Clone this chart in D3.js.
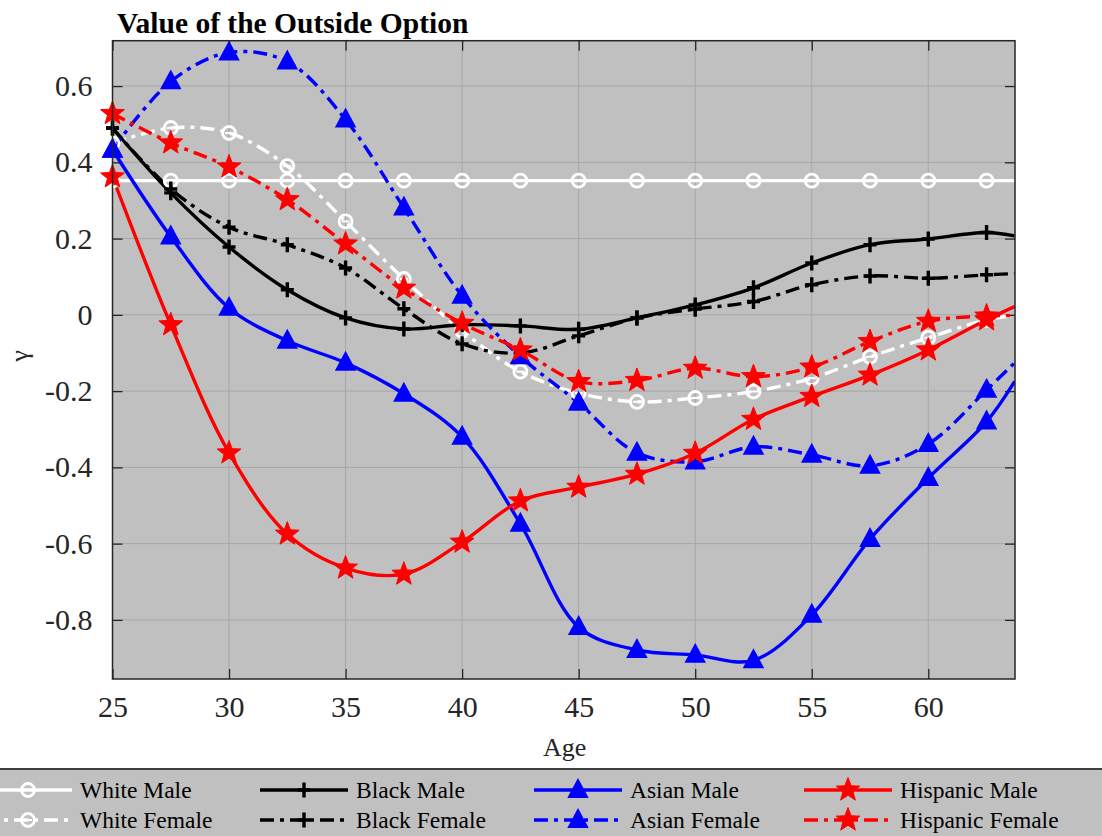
<!DOCTYPE html>
<html>
<head>
<meta charset="utf-8">
<script src="https://cdn.jsdelivr.net/npm/d3@7"></script>
<style>
html,body{margin:0;padding:0;background:#fff;overflow:hidden;}
svg{display:block;}
</style>
</head>
<body>
<svg id="chart" width="1102" height="836"></svg>
<script>
// ---------- data ----------
const ages = [25, 27.5, 30, 32.5, 35, 37.5, 40, 42.5, 45, 47.5, 50, 52.5, 55, 57.5, 60, 62.5, 63.7];
const markerCount = 16; // markers at ages 25..62.5
const whiteMale   = [0.352,0.352,0.352,0.352,0.352,0.352,0.352,0.352,0.352,0.352,0.352,0.352,0.352,0.352,0.352,0.352,0.352];
const whiteFemale = [0.45,0.49,0.477,0.39,0.245,0.094,-0.042,-0.149,-0.205,-0.228,-0.218,-0.201,-0.166,-0.11,-0.06,-0.013,-0.002];
const blackMale   = [0.49,0.32,0.178,0.066,-0.008,-0.037,-0.026,-0.029,-0.038,-0.008,0.026,0.071,0.136,0.184,0.199,0.216,0.207];
const blackFemale = [0.49,0.33,0.23,0.184,0.123,0.016,-0.076,-0.1,-0.055,-0.008,0.015,0.035,0.079,0.102,0.096,0.105,0.108];
const asianMale   = [0.433,0.205,0.018,-0.068,-0.126,-0.207,-0.32,-0.548,-0.819,-0.879,-0.892,-0.906,-0.787,-0.588,-0.428,-0.28,-0.175];
const asianFemale = [0.433,0.612,0.688,0.664,0.512,0.281,0.05,-0.109,-0.231,-0.362,-0.385,-0.346,-0.367,-0.396,-0.339,-0.197,-0.126];
const hispMale    = [0.362,-0.026,-0.362,-0.575,-0.664,-0.68,-0.596,-0.488,-0.452,-0.418,-0.363,-0.274,-0.214,-0.158,-0.092,-0.013,0.022];
const hispFemale  = [0.528,0.451,0.388,0.302,0.186,0.07,-0.022,-0.092,-0.175,-0.172,-0.14,-0.162,-0.137,-0.07,-0.017,-0.003,-0.002];

const xTicks = [25, 30, 35, 40, 45, 50, 55, 60];
const yTicks = [-0.8, -0.6, -0.4, -0.2, 0, 0.2, 0.4, 0.6];
const yTickLabels = ["-0.8", "-0.6", "-0.4", "-0.2", "0", "0.2", "0.4", "0.6"];

const seriesNames = ["White Male","White Female","Black Male","Black Female","Asian Male","Asian Female","Hispanic Male","Hispanic Female"];
const seriesValues = [whiteMale, whiteFemale, blackMale, blackFemale, asianMale, asianFemale, hispMale, hispFemale];
const seriesColors = ["#ffffff","#ffffff","#000000","#000000","#0000ff","#0000ff","#ff0000","#ff0000"];
const seriesDashed = [false,true,false,true,false,true,false,true];
const seriesMarker = ["circle","circle","plus","plus","triangle","triangle","star","star"];

// ---------- layout ----------
const svg = d3.select("#chart");
const L = 112.5, R = 1015, T = 40.7, B = 679;
const x = d3.scaleLinear().domain([25, 63.72]).range([L, R]);
const y = d3.scaleLinear().domain([-0.955, 0.719]).range([B, T]);
const serif = "'Liberation Serif','Times New Roman',serif";
const axisColor = "#262626";
const dashPattern = "14,6,4,6";

// plot background
svg.append("rect").attr("x", L).attr("y", T).attr("width", R - L).attr("height", B - T).attr("fill", "#c0c0c0");

// grid
const grid = svg.append("g");
xTicks.forEach(t => grid.append("line").attr("x1", x(t)).attr("x2", x(t)).attr("y1", T).attr("y2", B)
  .attr("stroke", "#a6a6a6").attr("stroke-width", 1));
yTicks.forEach(t => grid.append("line").attr("x1", L).attr("x2", R).attr("y1", y(t)).attr("y2", y(t))
  .attr("stroke", "#a6a6a6").attr("stroke-width", 1));

// axes via d3 axes (labels), inward ticks
const xAxis = d3.axisBottom(x).tickValues(xTicks).tickSize(-10).tickPadding(17).tickFormat(d3.format("d"));
const gx = svg.append("g").attr("transform", `translate(0,${B})`).call(xAxis);
const yAxis = d3.axisLeft(y).tickValues(yTicks).tickSize(-10).tickPadding(20).tickFormat((d, i) => yTickLabels[i]);
const gy = svg.append("g").attr("transform", `translate(${L},0)`).call(yAxis);
const xAxisTop = d3.axisTop(x).tickValues(xTicks).tickSize(-10).tickFormat("");
const gxt = svg.append("g").attr("transform", `translate(0,${T})`).call(xAxisTop);
const yAxisRight = d3.axisRight(y).tickValues(yTicks).tickSize(-10).tickFormat("");
const gyr = svg.append("g").attr("transform", `translate(${R},0)`).call(yAxisRight);
[gx, gy, gxt, gyr].forEach(g => {
  g.attr("font-size", null).attr("font-family", null);
  g.select(".domain").remove();
  g.selectAll(".tick line").attr("stroke", axisColor).attr("stroke-width", 1.3);
  g.selectAll(".tick text").attr("fill", axisColor).style("font-family", serif).style("font-size", "30px");
});

// ---------- series ----------
const line = d3.line().x(d => x(d[0])).y(d => y(d[1])).curve(d3.curveCatmullRom.alpha(0.5));
svg.append("clipPath").attr("id", "clip").append("rect").attr("x", L).attr("y", T).attr("width", R - L).attr("height", B - T);

function starPath(r) {
  const pts = [];
  for (let i = 0; i < 10; i++) {
    const rr = i % 2 === 0 ? r : r * 0.42;
    const a = -Math.PI / 2 + i * Math.PI / 5;
    pts.push([rr * Math.cos(a), rr * Math.sin(a)]);
  }
  return "M" + pts.map(p => p.join(",")).join("L") + "Z";
}
function drawMarker(g, type, color, cx, cy) {
  if (type === "circle") {
    g.append("circle").attr("cx", cx).attr("cy", cy).attr("r", 6.5).attr("fill", "none").attr("stroke", color).attr("stroke-width", 2.8);
    g.append("line").attr("x1", cx - 4).attr("x2", cx + 4).attr("y1", cy).attr("y2", cy).attr("stroke", color).attr("stroke-width", 2);
  } else if (type === "plus") {
    g.append("path").attr("d", `M${cx - 6.5},${cy}H${cx + 6.5}M${cx},${cy - 7.5}V${cy + 7.5}`).attr("stroke", color).attr("stroke-width", 3.4).attr("fill", "none");
  } else if (type === "triangle") {
    const s = 9.5;
    g.append("path").attr("d", `M${cx},${cy - s - 1}L${cx + s},${cy + s * 0.75}L${cx - s},${cy + s * 0.75}Z`).attr("fill", color).attr("stroke", color).attr("stroke-width", 1.5);
  } else if (type === "star") {
    g.append("path").attr("transform", `translate(${cx},${cy})`).attr("d", starPath(12.5)).attr("fill", color).attr("stroke", color).attr("stroke-width", 1);
  }
}

const plotG = svg.append("g").attr("clip-path", "url(#clip)");
seriesValues.forEach((vals, si) => {
  const pts = ages.map((a, i) => [a, vals[i]]);
  plotG.append("path").attr("d", line(pts)).attr("fill", "none")
    .attr("stroke", seriesColors[si]).attr("stroke-width", 3.4)
    .attr("stroke-dasharray", seriesDashed[si] ? dashPattern : null);
});
const markG = svg.append("g");
seriesValues.forEach((vals, si) => {
  for (let i = 0; i < markerCount; i++) {
    drawMarker(markG, seriesMarker[si], seriesColors[si], x(ages[i]), y(vals[i]));
  }
});

// frame
svg.append("rect").attr("x", L).attr("y", T).attr("width", R - L).attr("height", B - T)
  .attr("fill", "none").attr("stroke", axisColor).attr("stroke-width", 1.5);

// title & labels
svg.append("text").attr("x", 117).attr("y", 33).text("Value of the Outside Option")
  .style("font-family", serif).style("font-weight", "bold").style("font-size", "29.5px").attr("fill", "#000");
svg.append("text").attr("x", (L + R) / 2 + 1).attr("y", 756).attr("text-anchor", "middle").text("Age")
  .style("font-family", serif).style("font-size", "26px").attr("fill", axisColor);
svg.append("text").attr("transform", "translate(28,356) rotate(-90)").attr("text-anchor", "middle").text("γ")
  .style("font-family", serif).style("font-size", "26px").attr("fill", axisColor);

// ---------- legend ----------
const lg = svg.append("g");
lg.append("rect").attr("x", -5).attr("y", 769).attr("width", 1115).attr("height", 80).attr("fill", "#c0c0c0")
  .attr("stroke", "#404040").attr("stroke-width", 2);
const legendMarkerX = [28, 304, 578, 848];
const legendRowY = [790, 820];
seriesNames.forEach((name, si) => {
  const col = Math.floor(si / 2), row = si % 2;
  const mx = legendMarkerX[col], ly = legendRowY[row];
  lg.append("line").attr("x1", mx - 44).attr("x2", mx + 44).attr("y1", ly).attr("y2", ly)
    .attr("stroke", seriesColors[si]).attr("stroke-width", 3.4)
    .attr("stroke-dasharray", seriesDashed[si] ? dashPattern : null);
  drawMarker(lg, seriesMarker[si], seriesColors[si], mx, ly);
  lg.append("text").attr("x", mx + 52).attr("y", ly + 8).text(name)
    .style("font-family", serif).style("font-size", "23.5px").attr("fill", "#000");
});
</script>
</body>
</html>
